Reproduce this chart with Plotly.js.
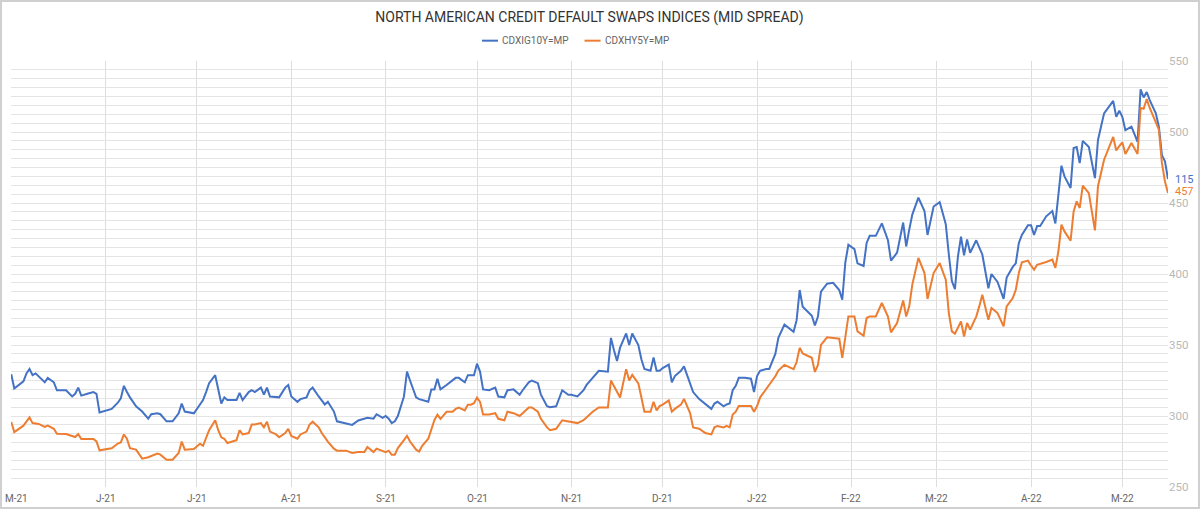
<!DOCTYPE html>
<html>
<head>
<meta charset="utf-8">
<script src="https://cdn.plot.ly/plotly-3.0.1.min.js"></script>
<style>
  html, body { margin: 0; padding: 0; background: #ffffff; }
  #chart { width: 1196px; height: 505px; border: 2px solid #d0d0d0; background: #fff; }
</style>
</head>
<body>
<div id="chart"></div>
<script>
// ---- data ----
const chartTitle = 'NORTH AMERICAN CREDIT DEFAULT SWAPS INDICES (MID SPREAD)';
const seriesNames = ['CDXIG10Y=MP', 'CDXHY5Y=MP'];

const dates = [
  '2021-05-01','2021-05-02','2021-05-05','2021-05-06','2021-05-07','2021-05-08','2021-05-09','2021-05-10','2021-05-12','2021-05-13','2021-05-15','2021-05-16','2021-05-19','2021-05-21','2021-05-22','2021-05-23','2021-05-24','2021-05-26','2021-05-28','2021-05-29','2021-05-30',
  '2021-06-03','2021-06-05','2021-06-06','2021-06-07','2021-06-08','2021-06-09','2021-06-11','2021-06-13','2021-06-15','2021-06-16','2021-06-18','2021-06-19','2021-06-21','2021-06-23','2021-06-25','2021-06-26','2021-06-27','2021-06-30',
  '2021-07-02','2021-07-03','2021-07-04','2021-07-05','2021-07-07','2021-07-08','2021-07-09','2021-07-10','2021-07-11','2021-07-13','2021-07-14','2021-07-15','2021-07-16','2021-07-18','2021-07-19','2021-07-20','2021-07-22','2021-07-23','2021-07-24','2021-07-25','2021-07-27','2021-07-28','2021-07-30','2021-07-31',
  '2021-08-01','2021-08-03','2021-08-04','2021-08-06','2021-08-07','2021-08-08','2021-08-10','2021-08-11','2021-08-12','2021-08-13','2021-08-15','2021-08-16','2021-08-19','2021-08-21','2021-08-23','2021-08-25','2021-08-26','2021-08-28','2021-08-29','2021-08-31',
  '2021-09-01','2021-09-02','2021-09-03','2021-09-04','2021-09-05','2021-09-07','2021-09-08','2021-09-09','2021-09-11','2021-09-12','2021-09-13','2021-09-15','2021-09-16','2021-09-17','2021-09-18','2021-09-19','2021-09-21','2021-09-23','2021-09-24','2021-09-25','2021-09-27','2021-09-28','2021-09-29','2021-09-30',
  '2021-10-01','2021-10-02','2021-10-03','2021-10-05','2021-10-07','2021-10-08','2021-10-10','2021-10-11','2021-10-13','2021-10-15','2021-10-16','2021-10-18','2021-10-19','2021-10-21','2021-10-22','2021-10-24','2021-10-25','2021-10-27','2021-10-29','2021-10-31',
  '2021-11-01','2021-11-03','2021-11-05','2021-11-06','2021-11-08','2021-11-10','2021-11-13','2021-11-14','2021-11-15','2021-11-16','2021-11-17','2021-11-19','2021-11-20','2021-11-21','2021-11-23','2021-11-24','2021-11-25','2021-11-27','2021-11-28','2021-11-29','2021-11-30',
  '2021-12-01','2021-12-03','2021-12-04','2021-12-05','2021-12-07','2021-12-08','2021-12-10','2021-12-11','2021-12-13','2021-12-15','2021-12-17','2021-12-18','2021-12-19','2021-12-21','2021-12-22','2021-12-23','2021-12-24','2021-12-25','2021-12-26','2021-12-28','2021-12-30','2021-12-31',
  '2022-01-01','2022-01-02','2022-01-04','2022-01-05','2022-01-07','2022-01-08','2022-01-10','2022-01-13','2022-01-14','2022-01-15','2022-01-16','2022-01-19','2022-01-20','2022-01-21','2022-01-22','2022-01-24','2022-01-26','2022-01-28','2022-01-29','2022-01-30','2022-01-31',
  '2022-02-02','2022-02-03','2022-02-05','2022-02-06','2022-02-07','2022-02-09','2022-02-11','2022-02-13','2022-02-14','2022-02-16','2022-02-18','2022-02-19','2022-02-20','2022-02-21','2022-02-23','2022-02-25','2022-02-26','2022-02-28',
  '2022-03-02','2022-03-04','2022-03-05','2022-03-06','2022-03-07','2022-03-08','2022-03-09','2022-03-10','2022-03-11','2022-03-12','2022-03-14','2022-03-15','2022-03-16','2022-03-18','2022-03-19','2022-03-21','2022-03-23','2022-03-24','2022-03-26','2022-03-27','2022-03-28','2022-03-29','2022-03-31',
  '2022-04-01','2022-04-02','2022-04-03','2022-04-04','2022-04-06','2022-04-08','2022-04-09','2022-04-10','2022-04-11','2022-04-12','2022-04-14','2022-04-15','2022-04-16','2022-04-17','2022-04-18','2022-04-20','2022-04-22','2022-04-23','2022-04-25','2022-04-28','2022-04-29','2022-04-30',
  '2022-05-01','2022-05-02','2022-05-04','2022-05-06','2022-05-07','2022-05-08','2022-05-09','2022-05-10','2022-05-12','2022-05-13','2022-05-14','2022-05-15','2022-05-16'
];

// CDX IG 10Y (left, hidden scale)
const igValues = [
  92.7,91.1,91.9,92.8,93.3,92.6,92.8,92.5,91.8,92.3,91.8,90.9,90.9,90.2,90.5,91.2,90.3,90.5,90.7,90.5,88.4,
  88.8,89.5,90.0,91.4,90.7,90.1,89.1,88.5,87.7,88.2,88.3,88.2,87.4,87.4,88.3,89.4,88.5,88.3,
  89.3,89.8,90.7,91.7,92.6,90.9,89.4,90.1,89.8,89.8,89.8,90.6,89.8,90.7,90.9,90.7,91.2,90.4,91.2,90.2,90.1,90.1,91.2,91.5,
  90.2,89.6,89.9,90.1,90.9,91.2,90.2,89.8,89.3,89.6,88.5,87.4,87.2,87.0,87.5,87.7,87.8,87.7,88.2,87.8,
  88.0,87.7,87.2,87.4,88.0,90.2,93.0,92.0,90.1,89.9,89.8,89.6,91.0,91.0,92.2,91.0,91.5,92.0,92.3,92.3,91.8,92.6,92.6,92.6,
  93.9,93.0,91.0,90.9,91.2,90.2,90.1,90.9,91.0,90.4,90.9,91.8,92.0,91.7,90.4,89.1,89.0,89.1,90.9,90.4,
  90.4,90.2,90.9,91.5,92.3,93.1,93.0,96.8,95.4,94.2,95.7,97.3,96.0,97.3,96.0,94.4,93.3,93.1,94.6,93.1,93.1,
  93.4,93.8,91.8,92.5,93.1,93.6,91.8,90.7,89.9,89.4,88.8,89.4,89.6,89.1,89.3,89.4,90.9,91.4,92.3,92.3,92.2,90.7,
  92.5,93.1,93.3,93.3,95.0,96.8,98.3,97.5,98.8,102.2,100.3,99.3,98.2,99.2,102.0,102.9,103.0,102.2,101.1,105.3,107.3,
  106.8,105.2,104.9,107.5,108.3,108.3,109.7,107.8,105.5,106.4,109.8,107.1,109.0,110.7,112.6,111.1,108.4,111.6,
  112.1,109.6,106.2,103.2,102.3,106.0,108.2,106.1,107.9,106.4,107.8,107.0,106.2,102.4,104.0,103.1,101.2,103.6,104.8,105.2,107.5,108.4,109.5,
  109.5,108.4,109.4,109.4,110.5,111.1,109.7,113.1,116.2,115.0,113.7,118.2,118.3,116.5,119.0,118.3,114.8,119.1,122.1,123.5,121.7,122.4,
  121.7,120.2,120.6,118.9,124.8,123.9,124.5,123.6,122.1,120.6,117.4,116.7,114.7
];

// CDX HY 5Y (right scale)
const hyValues = [
  295.8,288.7,293.2,296,299,295,294.8,294.4,292.3,293.2,291,287.5,287.3,285.6,285.2,287.3,283.8,283.8,283.8,282.1,275.8,
  277.3,280.6,281.4,287,284,277.3,276.3,270,271,272,273.5,272.8,269.2,269.2,274,282,276.3,276.8,
  280.5,279,284,290,297,290,285,284,281,282,283,290,287,288,294,294,295,292,296,289,287,285,288,291,
  286,284,287,289,294,296,292,288,285,282,277,275.6,275.6,274,274.6,274.6,278.2,274.6,277,275.6,
  274.6,275.6,272.7,272.7,277.4,283,286,282,276.3,275,279,284,291,297,301,298,303,303,305,306,304,308,308,309,
  313,310,301,301,302,298,297,303,302,300,302,306,306,303,298,292,290,291,297,296,
  296,295,297,299,303,306,306,325,321,316,313,333,325,329,323,313,303,303,310,304,307,
  308,311,303,305,308,312,302,292,291,288,287,292,293,292,293,292,301,303,307,307,307,303,
  307,313,319,322,328,332,336,333,338,348,344,341,331,336,350,355.4,355,354.4,341,356,370.1,
  370.1,359.6,356.5,369,370.1,370.1,379.6,370,358.9,365.5,381.4,370.1,377.2,392.5,411.3,400.7,382.4,400.7,
  407.7,396,372.5,359.6,358,362,366.6,356,365.5,360.8,370,377.2,385.4,367.8,376.1,372.5,363.1,377.2,383,388.9,400.7,408.2,409.4,
  406,403,406.5,407,408.5,410.1,404.3,416,434.7,430,423.4,444.1,451.2,446.5,462.3,457,430.7,461.8,480.5,496.5,487,490,
  492.7,484.5,492.3,484.5,516.9,516.4,523.2,516.9,506.8,501.6,478.2,465.2,457
];

const tickDates = ['2021-05-01','2021-06-01','2021-07-01','2021-08-01','2021-09-01','2021-10-01','2021-11-01','2021-12-01','2022-01-01','2022-02-01','2022-03-01','2022-04-01','2022-05-01'];
const tickLabels = ['M-21','J-21','J-21','A-21','S-21','O-21','N-21','D-21','J-22','F-22','M-22','A-22','M-22'];
const hyTicks = [250, 300, 350, 400, 450, 500, 550];

// ---- styling ----
const BLUE = '#4472C4';
const ORANGE = '#ED7D31';
const FONT = 'Roboto, "DejaVu Sans", sans-serif';

const traces = [
  { x: dates, y: igValues, name: seriesNames[0], type: 'scatter', mode: 'lines',
    line: { color: BLUE, width: 2 }, yaxis: 'y', showlegend: false },
  { x: dates, y: hyValues, name: seriesNames[1], type: 'scatter', mode: 'lines',
    line: { color: ORANGE, width: 2 }, yaxis: 'y2', showlegend: false }
];

const lastIdx = dates.length - 1;

// ---- compact legend (line swatch + label) above the plot ----
const PLOT_W = 1157;               // plot width in px (1196 - 9 - 30)
const LEG_FONT_SIZE = 10;
function measure(txt, size) {
  const ctx = document.createElement('canvas').getContext('2d');
  ctx.font = size + 'px ' + FONT;
  return ctx.measureText(txt).width;
}
const legendY = 1.0477;
const SWATCH = 16, TEXT_GAP = 2, ITEM_GAP = 18;
let cursor = 471;                  // px from plot left where legend starts
const shapes = [];
const annotations = [];
[BLUE, ORANGE].forEach((color, i) => {
  const x0 = cursor, x1 = cursor + SWATCH;
  shapes.push({ type: 'line', xref: 'paper', yref: 'paper',
    x0: x0 / PLOT_W, x1: x1 / PLOT_W, y0: legendY, y1: legendY,
    line: { color: color, width: 2 } });
  annotations.push({ x: (x1 + TEXT_GAP) / PLOT_W, y: legendY, xref: 'paper', yref: 'paper',
    text: seriesNames[i], showarrow: false, xanchor: 'left', yanchor: 'middle',
    font: { family: FONT, size: LEG_FONT_SIZE, color: '#666' } });
  cursor = x1 + TEXT_GAP + measure(seriesNames[i], LEG_FONT_SIZE) + ITEM_GAP;
});

// ---- month labels under the plot (first one kept inside the frame) ----
tickDates.forEach((d, i) => {
  annotations.push({ x: d, y: 0, xref: 'x', yref: 'paper', text: tickLabels[i],
    showarrow: false, xanchor: i === 0 ? 'left' : 'center', yanchor: 'top',
    xshift: i === 0 ? -8 : 0, yshift: -4,
    font: { family: FONT, size: 10, color: '#666' } });
});

// ---- end-of-line value labels ----
annotations.push(
  { x: dates[lastIdx], y: igValues[lastIdx], xref: 'x', yref: 'y',
    text: String(Math.round(igValues[lastIdx])), showarrow: false,
    xanchor: 'left', yanchor: 'middle', xshift: 5,
    font: { family: FONT, size: 11, color: BLUE } },
  { x: dates[lastIdx], y: hyValues[lastIdx], xref: 'x', yref: 'y2',
    text: String(Math.round(hyValues[lastIdx])), showarrow: false,
    xanchor: 'left', yanchor: 'middle', xshift: 5, yshift: 2,
    font: { family: FONT, size: 11, color: ORANGE } }
);

const layout = {
  width: 1196, height: 505,
  paper_bgcolor: '#ffffff', plot_bgcolor: '#ffffff',
  margin: { l: 9, r: 30, t: 59, b: 20, pad: 0 },
  font: { family: FONT, color: '#555' },
  title: { text: chartTitle, x: 0.5, xref: 'paper', xanchor: 'center',
           y: 0.970, yref: 'container', yanchor: 'middle',
           font: { family: FONT, size: 14, color: '#333' } },
  showlegend: false,
  xaxis: { type: 'date', range: ['2021-04-30 22:00', '2022-05-16'],
           tickmode: 'array', tickvals: tickDates, showticklabels: false,
           showgrid: true, gridcolor: '#dddddd', gridwidth: 1,
           zeroline: false, showline: false, ticks: '' },
  yaxis: { range: [80, 128], dtick: 1, tick0: 80, showgrid: true, gridcolor: '#e4e4e4', gridwidth: 1,
           showticklabels: false, zeroline: false, showline: false, ticks: '', side: 'left' },
  yaxis2: { range: [250, 550], overlaying: 'y', side: 'right',
            tickmode: 'array', tickvals: hyTicks,
            showgrid: false, zeroline: false, showline: false, ticks: '',
            tickfont: { family: FONT, size: 11.5, color: '#b8b8b8' } },
  shapes: shapes,
  annotations: annotations
};

Plotly.newPlot('chart', traces, layout, { displayModeBar: false, staticPlot: true });
</script>
</body>
</html>
